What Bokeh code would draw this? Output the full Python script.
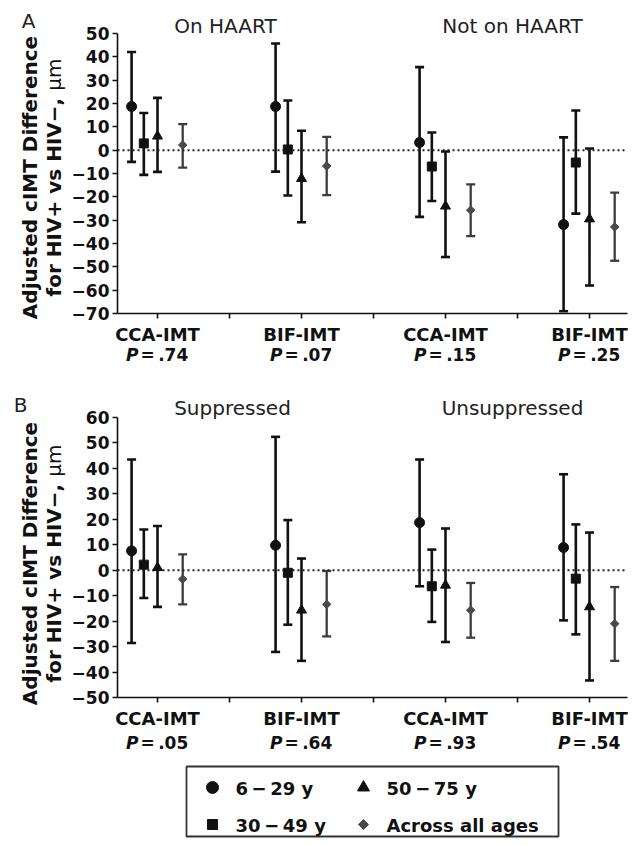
import numpy as np
from bokeh.plotting import figure
from bokeh.models import Range1d, FixedTicker, Whisker, TeeHead, LinearAxis, ColumnDataSource
from bokeh.embed import file_html
from bokeh.resources import INLINE
from bokeh.core.properties import value

# ---------------- data ----------------
categories = ["CCA-IMT", "BIF-IMT", "CCA-IMT", "BIF-IMT"]
cat_pos = [1, 2, 3, 4]
p_values_A = [".74", ".07", ".15", ".25"]
p_values_B = [".05", ".64", ".93", ".54"]
series_names = ["6\u2009\u2212\u200929 y", "30\u2009\u2212\u200949 y", "50\u2009\u2212\u200975 y", "Across all ages"]
subtitles_A = ["On HAART", "Not on HAART"]
subtitles_B = ["Suppressed", "Unsuppressed"]
y_title_1 = "Adjusted cIMT Difference"
y_title_2 = "for HIV+ vs HIV\u2212, "
y_title_unit = "\u03bcm"

# Panel A (On HAART: groups 1-2, Not on HAART: groups 3-4)
A_629_mean = [18.7, 18.7, 3.3, -31.9]
A_629_low = [-5.0, -9.2, -28.6, -69.0]
A_629_high = [42.1, 45.7, 35.6, 5.5]
A_3049_mean = [2.9, 0.3, -7.0, -5.3]
A_3049_low = [-10.6, -19.4, -21.8, -27.2]
A_3049_high = [15.9, 21.3, 7.6, 17.0]
A_5075_mean = [6.0, -12.2, -24.0, -29.5]
A_5075_low = [-9.3, -30.9, -45.8, -58.0]
A_5075_high = [22.4, 8.3, -0.6, 0.7]
A_all_mean = [2.2, -6.8, -25.7, -32.9]
A_all_low = [-7.5, -19.3, -36.8, -47.4]
A_all_high = [11.2, 5.7, -14.7, -18.2]

# Panel B (Suppressed: groups 1-2, Unsuppressed: groups 3-4)
B_629_mean = [7.6, 9.8, 18.7, 8.9]
B_629_low = [-28.6, -32.1, -6.3, -19.7]
B_629_high = [43.5, 52.4, 43.5, 37.7]
B_3049_mean = [2.2, -1.0, -6.3, -3.3]
B_3049_low = [-10.9, -21.4, -20.3, -25.2]
B_3049_high = [16.0, 19.7, 8.1, 18.0]
B_5075_mean = [1.0, -15.7, -5.9, -14.4]
B_5075_low = [-14.4, -35.6, -28.2, -43.3]
B_5075_high = [17.4, 4.6, 16.4, 14.8]
B_all_mean = [-3.5, -13.4, -15.7, -21.0]
B_all_low = [-13.4, -26.0, -26.5, -35.6]
B_all_high = [6.2, -0.3, -5.0, -6.6]

# ---------------- style / layout ----------------
FONT = "DejaVu Sans"
INK = "#111111"
offsets = [-0.18, -0.095, 0.0, 0.175]
markers = ["circle", "square", "triangle", "square"]
angles = [0, 0, 0, np.pi / 4]
sizes = [10, 9, 10, 6]
fill_cols = [INK, INK, INK, "#4a4a4a"]
bar_cols = [INK, INK, INK, "#3c3c3c"]
bar_w = [2.6, 2.6, 2.6, 2.3]

W, H = 634, 845
FRAME_LEFT, FRAME_RIGHT = 117, 627
CAT1_PX, CAT_STEP_PX = 157, 144.0


def x_data(px):
    return cat_pos[0] + (px - CAT1_PX) / CAT_STEP_PX


X_START, X_END = x_data(FRAME_LEFT), x_data(FRAME_RIGHT)


def y_range_for(ymin, ymax, top, bot):
    k = (ymax - ymin) / (bot - top)
    return Range1d(ymin - (H - bot) * k, ymax + top * k)


PANELS = {
    "A": dict(ymin=-70, ymax=50, top=33, bot=313, rng="default",
              series=[(A_629_mean, A_629_low, A_629_high), (A_3049_mean, A_3049_low, A_3049_high),
                      (A_5075_mean, A_5075_low, A_5075_high), (A_all_mean, A_all_low, A_all_high)],
              pvals=p_values_A, subs=subtitles_A, letter=(28, 20), sub_xy=[(225, 25), (512, 25)],
              title_y=177, p_y=354),
    "B": dict(ymin=-50, ymax=60, top=417, bot=697, rng="B",
              series=[(B_629_mean, B_629_low, B_629_high), (B_3049_mean, B_3049_low, B_3049_high),
                      (B_5075_mean, B_5075_low, B_5075_high), (B_all_mean, B_all_low, B_all_high)],
              pvals=p_values_B, subs=subtitles_B, letter=(20, 404), sub_xy=[(232, 407), (512, 407)],
              title_y=563, p_y=742),
}

pa = PANELS["A"]
p = figure(width=W, height=H, output_backend="svg", toolbar_location=None,
           x_range=Range1d(x_data(0), x_data(W)),
           y_range=y_range_for(pa["ymin"], pa["ymax"], pa["top"], pa["bot"]),
           x_axis_type=None, y_axis_type=None, min_border=0)
pb = PANELS["B"]
p.extra_y_ranges = {"B": y_range_for(pb["ymin"], pb["ymax"], pb["top"], pb["bot"]),
                    "px": Range1d(H, 0)}
p.extra_x_ranges = {"px": Range1d(0, W)}
p.outline_line_color = None
p.background_fill_color = "white"
p.border_fill_color = "white"


def txt(x, y, s, size, style="normal", align="center", angle=0.0, color=INK, xr="px", yr="px", x_off=0):
    p.text(x=[x], y=[y], text=[s], text_font=value(FONT), text_font_size=size,
           text_font_style=style, text_align=align, text_baseline="middle", angle=angle,
           text_color=color, x_range_name=xr, y_range_name=yr, x_offset=x_off)


TITLE_PX = 20
BOLD_LEN = 10.28 * TITLE_PX     # approx. advance of the bold part of line 2
UNIT_LEN = 1.61 * TITLE_PX

for name, cfg in PANELS.items():
    rng, ymin, ymax = cfg["rng"], cfg["ymin"], cfg["ymax"]

    # zero reference line
    p.segment(x0=[X_START], x1=[X_END], y0=[0], y1=[0], y_range_name=rng,
              line_color="#222222", line_width=2, line_dash="2 3")

    for k, (mean, low, high) in enumerate(cfg["series"]):
        src = ColumnDataSource(dict(x=[c + offsets[k] for c in cat_pos], y=mean, lo=low, hi=high))
        p.add_layout(Whisker(source=src, base="x", upper="hi", lower="lo", dimension="height",
                             y_range_name=rng, line_color=bar_cols[k], line_width=bar_w[k],
                             upper_head=TeeHead(size=9, line_width=bar_w[k], line_color=bar_cols[k]),
                             lower_head=TeeHead(size=9, line_width=bar_w[k], line_color=bar_cols[k])))
        p.scatter("x", "y", source=src, y_range_name=rng, marker=markers[k], size=sizes[k],
                  angle=angles[k], fill_color=fill_cols[k], line_color=fill_cols[k], line_width=1)

    # axes drawn at the panel's own data limits
    yt = list(range(ymin, ymax + 1, 10))
    ya = LinearAxis(y_range_name=rng, fixed_location=X_START, bounds=(ymin, ymax),
                    ticker=FixedTicker(ticks=yt))
    ya.major_label_overrides = {v: (("\u2212%d" % -v) if v < 0 else str(v)) for v in yt}
    xa = LinearAxis(y_range_name=rng, fixed_location=ymin, bounds=(X_START, X_END),
                    ticker=FixedTicker(ticks=cat_pos, minor_ticks=[1.5, 2.5, 3.5]))
    xa.major_label_overrides = {c: lab for c, lab in zip(cat_pos, categories)}
    for ax in (xa, ya):
        ax.axis_line_width = 1.6
        ax.axis_line_color = INK
        ax.major_tick_line_width = 1.6
        ax.major_tick_line_color = INK
        ax.major_tick_out = 5
        ax.major_tick_in = 0
        ax.major_label_text_font = FONT
        ax.major_label_text_font_style = "bold"
        ax.major_label_text_color = INK
    xa.minor_tick_out = 5
    xa.minor_tick_in = 0
    xa.minor_tick_line_width = 1.6
    xa.minor_tick_line_color = INK
    ya.minor_tick_out = 0
    ya.minor_tick_in = 0
    xa.major_label_text_font_size = "18px"
    xa.major_label_standoff = 5
    ya.major_label_text_font_size = "17px"
    ya.major_label_standoff = 3
    p.add_layout(ya, "left")
    p.add_layout(xa, "below")

    # P values under each category
    for c, pv in zip(cat_pos, cfg["pvals"]):
        txt(c, cfg["p_y"], "P", "17px", style="bold italic", align="right", xr="default", x_off=-19)
        txt(c, cfg["p_y"], "=\u2009" + pv, "17px", style="bold", align="left", xr="default", x_off=-17)

    # y title (two lines; unit in regular weight)
    ty = cfg["title_y"]
    txt(29, ty, y_title_1, "%dpx" % TITLE_PX, style="bold", angle=np.pi / 2)
    start = ty + (BOLD_LEN + UNIT_LEN) / 2
    txt(53, start, y_title_2, "%dpx" % TITLE_PX, style="bold", align="left", angle=np.pi / 2)
    txt(53, start - BOLD_LEN, y_title_unit, "%dpx" % TITLE_PX, style="normal", align="left",
        angle=np.pi / 2)

    # panel letter and subtitles
    txt(cfg["letter"][0], cfg["letter"][1], name, "20px", color="#222222")
    for s, (sx, sy) in zip(cfg["subs"], cfg["sub_xy"]):
        txt(sx, sy, s, "20px", color="#222222")

# ---------------- legend ----------------
p.quad(left=[186], right=[558], top=[766], bottom=[836], x_range_name="px", y_range_name="px",
       fill_color=None, line_color="#333333", line_width=1.8)
leg_x = [212, 212, 363, 363]
leg_y = [787, 824, 787, 824]
leg_sizes = [12, 10, 12, 7]
for k in range(4):
    p.scatter([leg_x[k]], [leg_y[k]], x_range_name="px", y_range_name="px", marker=markers[k],
              size=leg_sizes[k], angle=angles[k], fill_color=fill_cols[k], line_color=fill_cols[k])
    txt(leg_x[k] + 23, leg_y[k] + 1, series_names[k], "18px", style="bold", align="left")

open("out.html", "w").write(file_html(p, INLINE))
